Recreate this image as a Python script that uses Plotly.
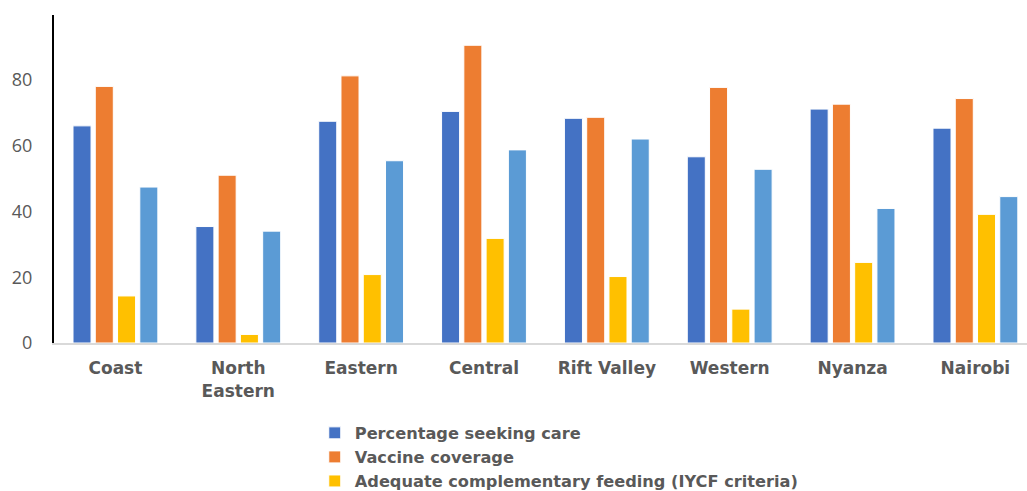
import plotly.graph_objects as go

categories = ["Coast", "North<br>Eastern", "Eastern", "Central", "Rift Valley", "Western", "Nyanza", "Nairobi"]
seeking_care = [66.0, 35.4, 67.4, 70.4, 68.3, 56.6, 71.1, 65.3]
vaccine_coverage = [78.0, 51.0, 81.2, 90.5, 68.6, 77.7, 72.6, 74.3]
complementary_feeding = [14.3, 2.6, 20.8, 31.8, 20.2, 10.3, 24.5, 39.1]
fourth_series = [47.4, 34.0, 55.4, 58.7, 62.0, 52.8, 40.9, 44.5]

series = [
    ("Percentage seeking care", seeking_care, "#4472C4", True),
    ("Vaccine coverage", vaccine_coverage, "#ED7D31", True),
    ("Adequate complementary feeding (IYCF criteria)", complementary_feeding, "#FFC000", True),
    ("Series 4", fourth_series, "#5B9BD5", False),
]

fig = go.Figure()
for name, vals, color, show in series:
    fig.add_trace(go.Bar(
        x=categories, y=vals, name=name,
        marker=dict(color=color, line=dict(color="white", width=1)),
        showlegend=show,
    ))

fig.update_layout(
    width=1027, height=491,
    margin=dict(l=54, r=0, t=15, b=148, autoexpand=False),
    paper_bgcolor="white", plot_bgcolor="white",
    barmode="group", bargap=0.275, bargroupgap=0.19,
    legend=dict(
        orientation="v", x=0.268, y=-0.222, xanchor="left", yanchor="top",
        font=dict(family="DejaVu Sans", size=16.2, color="#595959", weight="bold"),
        itemwidth=30, tracegroupgap=0, bgcolor="rgba(0,0,0,0)",
    ),
    xaxis=dict(
        range=[-0.5, 7.42],
        showline=True, linecolor="#D9D9D9", linewidth=2,
        ticks="outside", ticklen=9, tickcolor="rgba(0,0,0,0)",
        tickfont=dict(family="DejaVu Sans", size=17, color="#595959", weight="bold"),
        showgrid=False, zeroline=False,
    ),
    yaxis=dict(
        range=[0, 99.7],
        tickvals=[0, 20, 40, 60, 80],
        showline=True, linecolor="black", linewidth=2,
        ticks="outside", ticklen=16, tickcolor="rgba(0,0,0,0)",
        tickfont=dict(family="Open Sans", size=18, color="#595959"),
        showgrid=False, zeroline=False,
    ),
)

fig.write_html("out.html")
